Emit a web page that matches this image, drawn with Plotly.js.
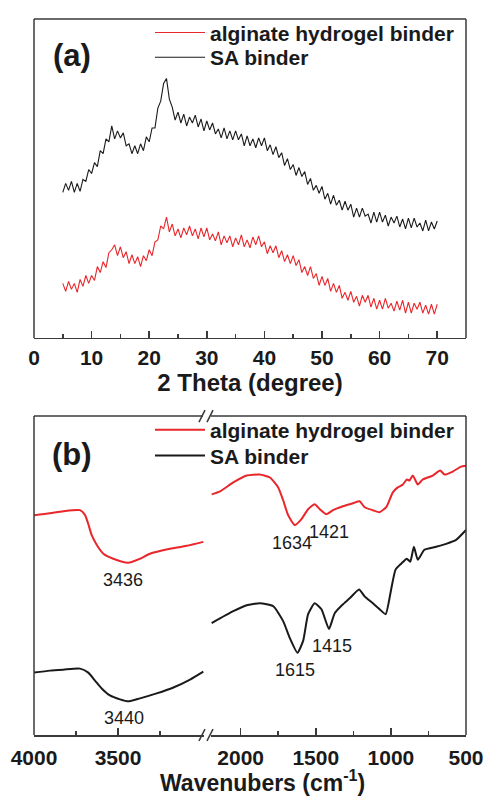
<!DOCTYPE html>
<html>
<head>
<meta charset="utf-8">
<script src="https://cdn.plot.ly/plotly-3.0.1.min.js"></script>
<style>html,body{margin:0;padding:0;background:#fff;}#chart{width:487px;height:797px;}</style>
</head>
<body>
<div id="chart"></div>
<script>
// ---------- Panel (a): XRD ----------
const xrdTheta = [5,5.5,6,6.5,7,7.5,8,8.5,9,9.5,10,10.5,11,11.5,12,12.5,13,13.5,14,14.5,15,15.5,16,16.5,17,17.5,18,18.5,19,19.5,20,20.5,21,21.5,22,22.5,23,23.5,24,24.5,25,25.5,26,26.5,27,27.5,28,28.5,29,29.5,30,30.5,31,31.5,32,32.5,33,33.5,34,34.5,35,35.5,36,36.5,37,37.5,38,38.5,39,39.5,40,40.5,41,41.5,42,42.5,43,43.5,44,44.5,45,45.5,46,46.5,47,47.5,48,48.5,49,49.5,50,50.5,51,51.5,52,52.5,53,53.5,54,54.5,55,55.5,56,56.5,57,57.5,58,58.5,59,59.5,60,60.5,61,61.5,62,62.5,63,63.5,64,64.5,65,65.5,66,66.5,67,67.5,68,68.5,69,69.5,70];
const xrdSA = [147,156,149,158,147,156,148,160,158,170,
  166,177,173,189,186,201,198,214,201,209,
  202,207,194,196,186,194,186,196,189,203,
  198,212,212,232,239,257,262,241,233,220,
  228,217,226,214,223,217,225,213,221,209,
  219,210,217,206,211,202,212,201,209,200,
  209,200,206,194,204,194,201,192,202,194,
  202,189,195,185,193,182,187,174,181,170,
  175,164,172,163,168,155,161,149,154,146,
  153,140,146,135,144,134,139,129,138,129,
  135,122,131,122,131,123,125,116,127,117,
  127,117,124,113,122,116,123,112,120,110,
  121,111,121,112,116,108,119,108,117,110,
  118];
const xrdHydrogel = [55,47,57,49,55,46,59,52,63,55,
  63,58,72,66,77,71,86,89,94,83,
  92,81,87,75,84,75,82,72,83,78,
  89,83,97,99,113,110,122,107,115,103,
  110,101,111,104,113,103,110,100,111,102,
  111,99,105,98,107,94,103,96,103,92,
  101,94,104,92,99,91,102,94,103,92,
  97,85,93,86,93,81,88,77,84,75,
  83,73,79,66,72,63,72,60,65,53,
  62,53,60,47,55,46,53,40,46,38,
  47,36,42,32,43,36,43,31,40,29,
  38,29,40,30,35,27,37,28,38,25,
  36,25,35,29,36,25,33,24,34,24,
  34];

// ---------- Panel (b): FTIR ----------
const hydroHighWn = [4000,3905,3826,3726,3696,3677,3657,3627,3587,3528,3439,3369,3310,3190,3091,2992];
const hydroHighT  = [222,224,226,227,222,213,202,192,183,178,174,178,183,188,191,195];
const saHighWn = [4000,3905,3826,3726,3677,3637,3597,3548,3488,3439,3369,3270,3170,3071,2992];
const saHighT  = [63,65,66,67,63,55,47,40,36,34,37,42,48,56,64];
const hydroLowWn = [2193,2137,2049,1960,1872,1805,1750,1717,1684,1640,1595,1551,1507,1473,1429,1385,1319,1252,1208,1175,1120,1075,1031,987,954,920,894,876,854,821,788,721,672,643,588,533,500];
const hydroLowT  = [243,246,255,262,263,260,250,237,222,212,218,228,233,228,223,227,231,234,236,230,227,225,230,245,250,253,258,257,262,253,258,262,267,263,266,271,272];
const saLowWn = [2193,2049,1960,1872,1783,1717,1673,1622,1584,1551,1507,1462,1412,1374,1319,1274,1212,1175,1120,1075,1035,997,969,931,894,871,847,821,777,699,632,566,500];
const saLowT  = [113,125,131,133,130,115,98,83,95,122,133,127,107,123,132,138,147,140,133,127,122,148,167,173,178,175,190,177,187,190,193,197,207];

// peak labels
const peakLabelsHigh = ['3436','3440'];
const peakLabelsLow  = ['1634','1421','1615','1415'];

// tick labels
const xrdTicks = [0,10,20,30,40,50,60,70];
const xrdMinor = [5,15,25,35,45,55,65];
const wnHighTicks = [4000,3500];
const wnHighMinor = [3750,3250];
const wnLowTicks = [2000,1500,1000,500];
const wnLowMinor = [1750,1250,750];

const seriesNames = ['alginate hydrogel binder','SA binder'];
const RED = '#e8262b', BLACK = '#1a1a1a', FRAME = '#3a3a3a';
const FONT = 'Liberation Sans, Arial, Helvetica, sans-serif';

const traces = [
  {x: xrdTheta, y: xrdHydrogel, type:'scatter', mode:'lines', name: seriesNames[0],
   line:{color:RED, width:1.1}, xaxis:'x', yaxis:'y', legend:'legend'},
  {x: xrdTheta, y: xrdSA, type:'scatter', mode:'lines', name: seriesNames[1],
   line:{color:BLACK, width:1.1}, xaxis:'x', yaxis:'y', legend:'legend2'},
  {x: hydroHighWn, y: hydroHighT, type:'scatter', mode:'lines', name: seriesNames[0],
   line:{color:RED, width:2, shape:'spline', smoothing:0.6}, xaxis:'x2', yaxis:'y2', legend:'legend3'},
  {x: saHighWn, y: saHighT, type:'scatter', mode:'lines', name: seriesNames[1],
   line:{color:BLACK, width:2, shape:'spline', smoothing:0.6}, xaxis:'x2', yaxis:'y2', legend:'legend4'},
  {x: hydroLowWn, y: hydroLowT, type:'scatter', mode:'lines', name: seriesNames[0], showlegend:false,
   line:{color:RED, width:2, shape:'spline', smoothing:0.5}, xaxis:'x3', yaxis:'y2'},
  {x: saLowWn, y: saLowT, type:'scatter', mode:'lines', name: seriesNames[1], showlegend:false,
   line:{color:BLACK, width:2, shape:'spline', smoothing:0.5}, xaxis:'x3', yaxis:'y2'}
];

// layout geometry (paper fractions)
const topDom = [0.5546, 1];
const botDom = [0, 0.4454];
const leftDom = [0, 0.3935];
const rightDom = [0.4088, 1];

const tickFont = {family: FONT, size: 21, color:'#1a1a1a', weight:'bold'};
const baseX = {
  ticks:'inside', ticklen:7, tickwidth:1.6, tickcolor:FRAME,
  showgrid:false, zeroline:false, showline:true, linecolor:FRAME, linewidth:1.5,
  tickfont: tickFont, fixedrange:true
};

const lineShape = (x0,y0,x1,y1) => ({type:'line', xref:'paper', yref:'paper', x0, y0, x1, y1,
  line:{color:FRAME, width:1.5}});
// px -> paper helpers for frame decoration
const PL = 34, PW = 432, PB = 735, PH = 723;
const px = v => (v - PL) / PW;
const py = v => (PB - v) / PH;

const shapes = [
  // panel (a) frame (bottom edge is the x axis line)
  lineShape(0, topDom[0], 0, topDom[1]),
  lineShape(1, topDom[0], 1, topDom[1]),
  lineShape(0, topDom[1], 1, topDom[1]),
  // panel (b) frame with axis break (bottom edges are the two x axis lines)
  lineShape(0, botDom[0], 0, botDom[1]),
  lineShape(1, botDom[0], 1, botDom[1]),
  lineShape(0, botDom[1], px(203), botDom[1]),
  lineShape(px(211), botDom[1], 1, botDom[1]),
  // break marks
  lineShape(px(199), py(741), px(205), py(729)),
  lineShape(px(207), py(741), px(213), py(729)),
  lineShape(px(199), py(419), px(205), py(407)),
  lineShape(px(207), py(419), px(213), py(407))
];

const annFont = {family: FONT, size: 18, color:'#1a1a1a'};
const annotations = [
  {text:'(a)', xref:'paper', yref:'paper', x:px(72), y:py(49), xanchor:'center', yanchor:'middle', showarrow:false,
   font:{family:FONT, size:31, color:'#1a1a1a', weight:'bold'}},
  {text:'(b)', xref:'paper', yref:'paper', x:px(72), y:py(452), xanchor:'center', yanchor:'middle', showarrow:false,
   font:{family:FONT, size:31, color:'#1a1a1a', weight:'bold'}},
  {text: peakLabelsHigh[0], xref:'x2', yref:'y2', x:3470, y:157, showarrow:false, font:annFont},
  {text: peakLabelsHigh[1], xref:'x2', yref:'y2', x:3464, y:17, showarrow:false, font:annFont},
  {text: peakLabelsLow[0], xref:'x3', yref:'y2', x:1661, y:194, showarrow:false, font:annFont},
  {text: peakLabelsLow[1], xref:'x3', yref:'y2', x:1414, y:205, showarrow:false, font:annFont},
  {text: peakLabelsLow[2], xref:'x3', yref:'y2', x:1639, y:66, showarrow:false, font:annFont},
  {text: peakLabelsLow[3], xref:'x3', yref:'y2', x:1394, y:90, showarrow:false, font:annFont},
  {text:'Wavenubers (cm<sup>-1</sup>)', xref:'paper', yref:'paper', x:px(262), y:py(781),
   xanchor:'center', yanchor:'middle',
   showarrow:false, font:{family:FONT, size:23, color:'#1a1a1a', weight:'bold'}}
];

const legendFont = {family: FONT, size: 21, color:'#1a1a1a', weight:'bold'};
const mkLegend = (cy) => ({x: px(150), y: py(cy), xanchor:'left', yanchor:'middle', bgcolor:'rgba(0,0,0,0)',
  font: legendFont, itemwidth:50, itemclick:false, itemdoubleclick:false});

const layout = {
  width:487, height:797,
  margin:{l:PL, r:21, t:12, b:62},
  paper_bgcolor:'#fff', plot_bgcolor:'#fff',
  font:{family:FONT, color:'#1a1a1a'},
  showlegend:true,
  xaxis: Object.assign({}, baseX, {domain:[0,1], anchor:'y', range:[0,75],
    tickmode:'array', tickvals: xrdTicks, ticktext: xrdTicks.map(String),
    minor:{tickmode:'array', tickvals: xrdMinor, ticks:'inside', ticklen:4, tickwidth:1.6, tickcolor:FRAME},
    title:{text:'2 Theta (degree)', font:{family:FONT, size:24, color:'#1a1a1a', weight:'bold'}, standoff:6}}),
  yaxis: {domain: topDom, anchor:'x', range:[0,322], showticklabels:false, ticks:'',
    showgrid:false, zeroline:false, showline:false, fixedrange:true},
  xaxis2: Object.assign({}, baseX, {domain: leftDom, anchor:'y2', range:[4000,2988], ticklabelstandoff:3,
    tickmode:'array', tickvals: wnHighTicks, ticktext: wnHighTicks.map(String),
    minor:{tickmode:'array', tickvals: wnHighMinor, ticks:'inside', ticklen:4, tickwidth:1.6, tickcolor:FRAME}}),
  xaxis3: Object.assign({}, baseX, {domain: rightDom, anchor:'y2', range:[2200,500], ticklabelstandoff:3,
    tickmode:'array', tickvals: wnLowTicks, ticktext: wnLowTicks.map(String),
    minor:{tickmode:'array', tickvals: wnLowMinor, ticks:'inside', ticklen:4, tickwidth:1.6, tickcolor:FRAME}}),
  yaxis2: {domain: botDom, anchor:'x2', range:[0,322], showticklabels:false, ticks:'',
    showgrid:false, zeroline:false, showline:false, fixedrange:true},
  legend: mkLegend(26),
  legend2: mkLegend(51),
  legend3: mkLegend(427),
  legend4: mkLegend(453),
  shapes: shapes,
  annotations: annotations
};

Plotly.newPlot('chart', traces, layout, {displayModeBar:false, staticPlot:true});
</script>
</body>
</html>
